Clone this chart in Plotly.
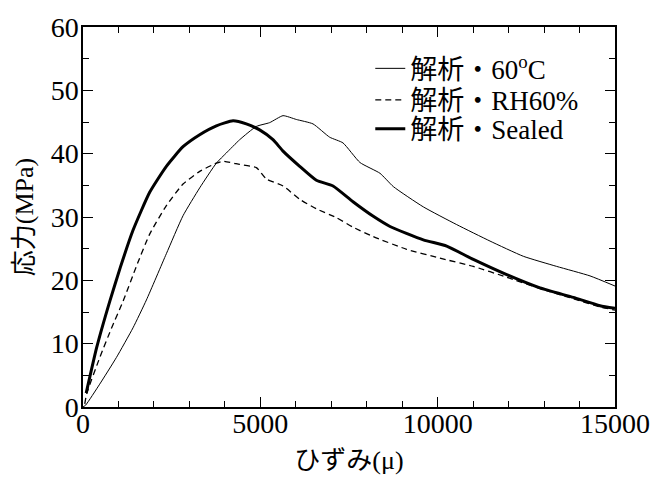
import plotly.graph_objects as go

# 解析・60°C (thin solid)
strain_60c = [0, 75, 470, 940, 1410, 1788, 2350, 2820, 3290, 3760, 4040, 4417, 4887, 5263,
              5640, 6015, 6485, 6955, 7330, 7810, 8374, 8750, 9595, 10536, 11476, 12415,
              13355, 14295, 15000]
stress_60c = [0.0, 0.3, 3.6, 7.8, 12.5, 16.9, 24.2, 30.2, 34.6, 38.5, 40.1, 42.2, 44.3, 44.9,
              46.0, 45.4, 44.7, 42.6, 41.7, 38.6, 36.9, 34.8, 31.6, 28.8, 26.2, 23.8,
              22.2, 20.7, 19.1]

# 解析・RH60% (dashed)
strain_rh = [50, 104, 479, 800, 1137, 1504, 1880, 2350, 2820, 3290, 3760, 3947, 4417,
             4887, 5169, 5640, 6110, 6580, 7143, 7613, 8185, 9124, 10064, 11005, 11946,
             12885, 13824, 14577, 15000]
stress_rh = [0.5, 2.1, 7.9, 12.4, 16.8, 22.2, 27.3, 31.8, 35.2, 37.2, 38.5, 38.8, 38.3,
             37.8, 36.0, 34.9, 32.8, 31.3, 29.9, 28.4, 26.9, 24.9, 23.5, 22.2, 20.5,
             18.7, 17.1, 15.8, 15.3]

# 解析・Sealed (thick solid)
strain_sealed = [90, 386, 761, 1050, 1410, 1880, 2350, 2820, 3290, 3760, 4230, 4605, 4980,
                 5357, 5640, 6110, 6580, 7050, 7613, 8185, 8656, 9595, 10254, 11005, 11946,
                 12885, 13824, 14577, 15000]
stress_sealed = [2.2, 9.4, 16.8, 22.0, 27.9, 33.9, 38.0, 41.1, 43.0, 44.4, 45.2, 44.7, 43.75,
                 42.2, 40.4, 38.0, 35.8, 34.9, 32.4, 30.1, 28.5, 26.4, 25.4, 23.3, 20.9,
                 18.8, 17.3, 16.0, 15.6]

names = ["解析・60<sup>o</sup>C", "解析・RH60%", "解析・Sealed"]
x_ticks = [0, 5000, 10000, 15000]
y_ticks = [0, 10, 20, 30, 40, 50, 60]

FONT = "Liberation Serif, Times New Roman, Noto Sans CJK JP"

fig = go.Figure()
fig.add_trace(go.Scatter(x=strain_60c, y=stress_60c, mode="lines", name=names[0],
                         legend="legend",
                         line=dict(color="black", width=1, shape="spline", smoothing=0.5)))
fig.add_trace(go.Scatter(x=strain_rh, y=stress_rh, mode="lines", name=names[1],
                         legend="legend2",
                         line=dict(color="black", width=1.3, dash="6px,4px",
                                   shape="spline", smoothing=0.5)))
fig.add_trace(go.Scatter(x=strain_sealed, y=stress_sealed, mode="lines", name=names[2],
                         legend="legend3",
                         line=dict(color="black", width=3, shape="spline", smoothing=0.5)))

axis_common = dict(showline=True, linecolor="black", linewidth=1.5, mirror="ticks",
                   ticks="inside", ticklen=10, tickwidth=1.2, tickcolor="black",
                   showgrid=False, zeroline=False,
                   tickfont=dict(family=FONT, size=28, color="black"))

fig.update_xaxes(range=[0, 15000], tickvals=x_ticks, ticktext=[str(v) for v in x_ticks],
                 minor=dict(dtick=1000, ticks="inside", ticklen=6, tickcolor="black", tickwidth=1),
                 ticklabelstandoff=-9,
                 title=dict(text="ひずみ(μ)", font=dict(family=FONT, size=26, color="black"),
                            standoff=12),
                 **axis_common)
fig.update_yaxes(range=[0, 60], tickvals=y_ticks, ticktext=[str(v) for v in y_ticks],
                 minor=dict(dtick=5, ticks="inside", ticklen=6, tickcolor="black", tickwidth=1),
                 ticklabelstandoff=-3,
                 title=dict(text="応力(MPa)", font=dict(family=FONT, size=26, color="black"),
                            standoff=10),
                 **axis_common)

leg_common = dict(x=0.54, xanchor="left", yanchor="middle",
                  bgcolor="rgba(0,0,0,0)", borderwidth=0,
                  font=dict(family=FONT, size=27, color="black"), itemwidth=30)

fig.update_layout(
    width=670, height=482,
    margin=dict(l=83, r=55, t=24, b=75),
    paper_bgcolor="white", plot_bgcolor="white",
    font=dict(family=FONT, color="black"),
    showlegend=True,
    legend=dict(y=0.890, **leg_common),
    legend2=dict(y=0.807, **leg_common),
    legend3=dict(y=0.731, **leg_common),
)

fig.write_html("out.html")
